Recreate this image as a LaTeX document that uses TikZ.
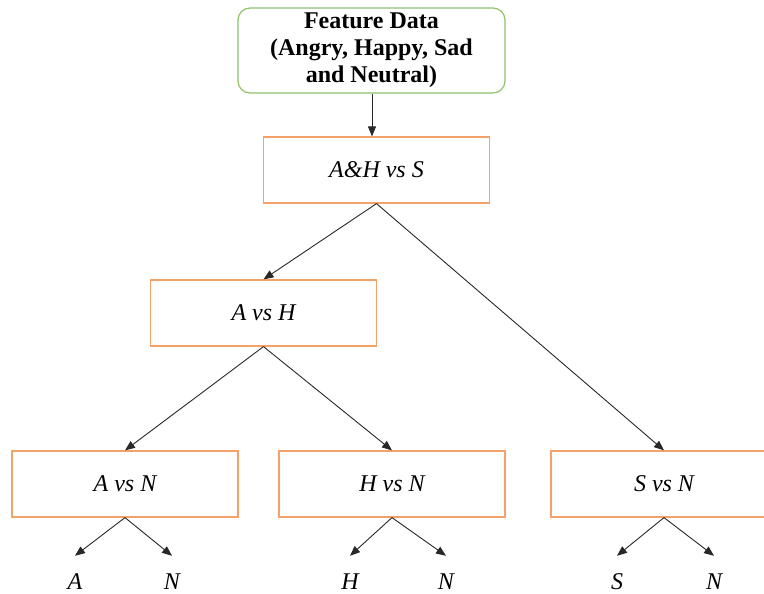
\documentclass[tikz,border=0pt]{standalone}
\usepackage{fontspec}
\setmainfont{Liberation Serif}
\usetikzlibrary{arrows.meta}
\definecolor{boxorange}{RGB}{244,162,106}
\definecolor{boxgreen}{RGB}{141,194,107}
\definecolor{linegray}{RGB}{40,40,40}
\tikzset{
  every node/.style={font=\fontsize{24}{27}\selectfont},
  decision/.style={draw=boxorange, line width=1.2pt, minimum width=226pt, minimum height=66pt, inner sep=0pt, font=\fontsize{24}{27}\selectfont\itshape},
  source/.style={draw=boxgreen, line width=1.2pt, rounded corners=12pt, minimum width=267pt, minimum height=85pt, inner sep=0pt, align=center, font=\fontsize{24}{27}\selectfont\bfseries},
  leaf/.style={minimum height=52pt, inner sep=0pt, font=\fontsize{24}{27}\selectfont\itshape},
  link/.style={draw=linegray, line width=0.9pt, -{Triangle[length=10pt,width=8pt]}}
}
\begin{document}
\begin{tikzpicture}[x=1pt,y=-1pt]
\useasboundingbox (0,0) rectangle (764,594);

\node[source]   (fd)  at (371.5,50.5) {Feature Data\\(Angry, Happy, Sad\\and Neutral)};
\node[decision] (ahs) at (376.5,170) {A\&H vs S};
\node[decision] (avh) at (263.5,313) {A vs H};
\node[decision] (avn) at (125,484)   {A vs N};
\node[decision] (hvn) at (392,484)   {H vs N};
\node[decision] (svn) at (664,484)   {S vs N};

\node[leaf] (la)  at (75,582)  {A};
\node[leaf] (lna) at (172,582) {N};
\node[leaf] (lh)  at (350,582) {H};
\node[leaf] (lnh) at (446,582) {N};
\node[leaf] (ls)  at (617,582) {S};
\node[leaf] (lns) at (714,582) {N};

\draw[link] (fd.south -| ahs.north) ++(-4.5,0) coordinate (fdout) -- (fdout |- ahs.north);
\draw[link] (ahs.south) -- (avh.north);
\draw[link] (ahs.south) -- (svn.north);
\draw[link] (avh.south) -- (avn.north);
\draw[link] (avh.south) -- (hvn.north);
\draw[link] (avn.south) -- (la.north);
\draw[link] (avn.south) -- (lna.north);
\draw[link] (hvn.south) -- (lh.north);
\draw[link] (hvn.south) -- (lnh.north);
\draw[link] (svn.south) -- (ls.north);
\draw[link] (svn.south) -- (lns.north);
\end{tikzpicture}
\end{document}
